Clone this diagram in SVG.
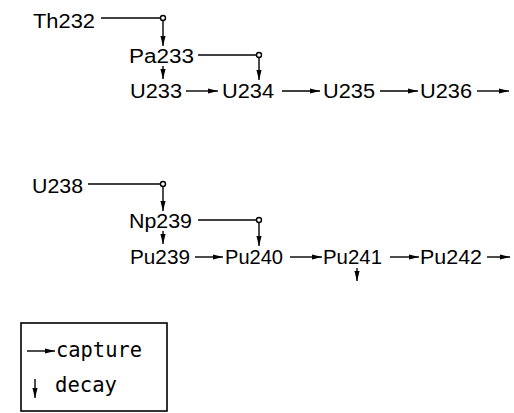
<svg xmlns="http://www.w3.org/2000/svg" width="514" height="413" viewBox="0 0 514 413">
<defs>
<style>
.lbl{font-family:"Liberation Sans",Arial,sans-serif;font-size:20px;fill:#000}
.leg{font-family:"DejaVu Sans Mono","Liberation Mono",monospace;font-size:20.5px;fill:#000}
.ln{stroke:#000;stroke-width:1.4;fill:none}
.arr{stroke:#000;stroke-width:1.4;fill:none;marker-end:url(#ah)}
.node{fill:#fff;stroke:#000;stroke-width:1.4}
</style>
<marker id="ah" markerUnits="userSpaceOnUse" markerWidth="11" markerHeight="7" viewBox="0 -3.5 11 7" refX="10" refY="0" orient="auto">
<path d="M0,-2.6 L10,0 L0,2.6 z" fill="#000"/>
</marker>
</defs>
<rect width="514" height="413" fill="#fff"/>
<g id="Th232"><text class="lbl" x="33" y="28" textLength="62" lengthAdjust="spacingAndGlyphs">Th232</text></g>
<g id="Pa233"><text class="lbl" x="129" y="63" textLength="65" lengthAdjust="spacingAndGlyphs">Pa233</text></g>
<g id="U233"><text class="lbl" x="130" y="98" textLength="52" lengthAdjust="spacingAndGlyphs">U233</text></g>
<g id="U234"><text class="lbl" x="222" y="98" textLength="52" lengthAdjust="spacingAndGlyphs">U234</text></g>
<g id="U235"><text class="lbl" x="323" y="98" textLength="52" lengthAdjust="spacingAndGlyphs">U235</text></g>
<g id="U236"><text class="lbl" x="420" y="98" textLength="52" lengthAdjust="spacingAndGlyphs">U236</text></g>
<g id="U238"><text class="lbl" x="32" y="193" textLength="51" lengthAdjust="spacingAndGlyphs">U238</text></g>
<g id="Np239"><text class="lbl" x="129" y="228" textLength="63" lengthAdjust="spacingAndGlyphs">Np239</text></g>
<g id="Pu239"><text class="lbl" x="130" y="264" textLength="60" lengthAdjust="spacingAndGlyphs">Pu239</text></g>
<g id="Pu240"><text class="lbl" x="225" y="264" textLength="58" lengthAdjust="spacingAndGlyphs">Pu240</text></g>
<g id="Pu241"><text class="lbl" x="323" y="264" textLength="59" lengthAdjust="spacingAndGlyphs">Pu241</text></g>
<g id="Pu242"><text class="lbl" x="420" y="264" textLength="62" lengthAdjust="spacingAndGlyphs">Pu242</text></g>
<g id="connectors">
<line class="ln" x1="101" y1="18" x2="160.5" y2="18"/>
<line class="arr" x1="163" y1="20.5" x2="163" y2="46"/>
<line class="arr" x1="163" y1="66" x2="163" y2="79"/>
<line class="ln" x1="198" y1="55" x2="256.5" y2="55"/>
<line class="arr" x1="259" y1="57.5" x2="259" y2="80"/>
<line class="arr" x1="186" y1="91" x2="218" y2="91"/>
<line class="arr" x1="282" y1="91" x2="320" y2="91"/>
<line class="arr" x1="380" y1="91" x2="418" y2="91"/>
<line class="arr" x1="477" y1="91" x2="509" y2="91"/>
<line class="ln" x1="88" y1="184" x2="160.5" y2="184"/>
<line class="arr" x1="163" y1="186.5" x2="163" y2="211"/>
<line class="arr" x1="163" y1="231" x2="163" y2="244"/>
<line class="ln" x1="198" y1="220" x2="256.5" y2="220"/>
<line class="arr" x1="259" y1="222.5" x2="259" y2="246"/>
<line class="arr" x1="195" y1="257" x2="223" y2="257"/>
<line class="arr" x1="290" y1="257" x2="322" y2="257"/>
<line class="arr" x1="390" y1="257" x2="419" y2="257"/>
<line class="arr" x1="487" y1="257" x2="510" y2="257"/>
<line class="arr" x1="357" y1="268" x2="357" y2="281"/>
<circle class="node" cx="163" cy="18" r="2.5"/>
<circle class="node" cx="259" cy="55" r="2.5"/>
<circle class="node" cx="163" cy="184" r="2.5"/>
<circle class="node" cx="259" cy="220" r="2.5"/>
</g>
<g id="legend">
<rect x="21" y="323" width="146" height="88" fill="none" stroke="#000" stroke-width="1.6"/>
<line class="arr" x1="27" y1="351" x2="55" y2="351"/>
<text class="leg" x="56" y="357" textLength="86" lengthAdjust="spacingAndGlyphs">capture</text>
<line class="arr" x1="35" y1="379" x2="35" y2="398"/>
<text class="leg" x="55" y="392" textLength="62" lengthAdjust="spacingAndGlyphs">decay</text>
</g>
</svg>
